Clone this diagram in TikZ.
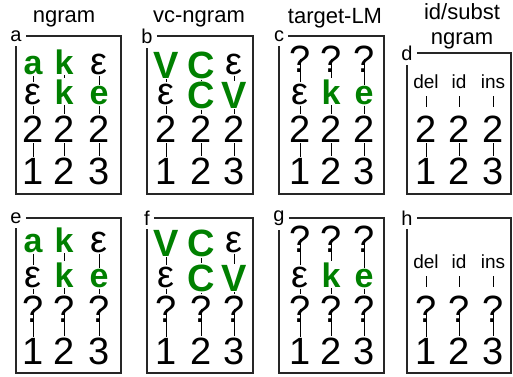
\documentclass[tikz,border=0pt]{standalone}
\usepackage{fontspec}
\setmainfont{Liberation Sans}
\definecolor{leafgreen}{RGB}{0,128,0}
% green symbols: bold letters and bold classes
\newcommand{\gl}[1]{\textcolor{leafgreen}{\fontsize{34}{34}\selectfont\bfseries #1}}
\newcommand{\gb}[1]{\raisebox{-4pt}{\textcolor{leafgreen}{\bfseries #1}}}
\newcommand{\op}[1]{\fontsize{19}{19}\selectfont #1}
% one column of a panel: y/text/anchor below/shorten of link above
\newcommand{\stackcol}[3]{%
  \foreach \yy/\txt/\anc/\sh [count=\r, remember=\r as \q (initially 0), remember=\anc as \panc (initially south)] in {#3} {
    \node[cell] (#1-\r) at (#2,\yy) {\txt};
    \ifnum\r>1 \draw[link, shorten <=\sh, shorten >=\sh] (#1-\q.\panc) -- (#1-\r.north);\fi
  }%
}

\begin{document}
\begin{tikzpicture}[x=1pt, y=-1pt,
    cell/.style={anchor=base, inner sep=1pt, font=\fontsize{38}{38}\selectfont},
    tag/.style={inner sep=4pt, font=\fontsize{20}{20}\selectfont},
    title/.style={anchor=base, font=\fontsize{22}{22}\selectfont},
    border/.style={line width=1.2pt, black!85},
    link/.style={line width=0.8pt}]
  \useasboundingbox (0,0) rectangle (513,376);

  % titles
  \node[title] (tngram) at (64,22) {ngram};
  \node[title] (tvc) at (199,22) {vc-ngram};
  \node[title] (ttarget) at (335,23) {target-LM};
  \node[align=center, font=\fontsize{22}{25}\selectfont] (tsubst) at (462,26) {id/subst\\ngram};

  % top row
  \node[tag] (a) at (16,36) {a};
  \draw[border] (a.east) -- (121,36) -- (121,194) -- (16,194) -- (a.south);
  \stackcol{a1}{33}{74/\gl{a}/south/0pt, 104/ε/south/0pt, 142/2/south/0pt, 184/1/south/0pt}
  \stackcol{a2}{64}{74/\gl{k}/south/0pt, 104/\gl{k}/south/0pt, 142/2/south/0pt, 184/2/south/0pt}
  \stackcol{a3}{99}{74/ε/south/0pt, 104/\gl{e}/south/0pt, 142/2/south/0pt, 184/3/south/0pt}

  \node[tag] (b) at (147,36) {b};
  \draw[border] (b.east) -- (253,36) -- (253,194) -- (147,194) -- (b.south);
  \stackcol{b1}{166}{74/\gb{V}/south/0pt, 104/ε/south/0pt, 142/2/south/0pt, 184/1/south/0pt}
  \stackcol{b2}{201}{74/\gb{C}/south/0pt, 104/\gb{C}/south/0pt, 142/2/south/0pt, 184/2/south/0pt}
  \stackcol{b3}{234}{74/ε/south/0pt, 104/\gb{V}/south/0pt, 142/2/south/0pt, 184/3/south/0pt}

  \node[tag] (c) at (279,36) {c};
  \draw[border] (c.east) -- (384,36) -- (384,194) -- (279,194) -- (c.south);
  \stackcol{c1}{300}{72/?/center/0pt, 104/ε/south/0pt, 142/2/south/0pt, 184/1/south/0pt}
  \stackcol{c2}{331}{72/?/center/0pt, 104/\gl{k}/south/0pt, 142/2/south/0pt, 184/2/south/0pt}
  \stackcol{c3}{364}{72/?/center/0pt, 104/\gl{e}/south/0pt, 142/2/south/0pt, 184/3/south/0pt}

  \node[tag] (d) at (407,53) {d};
  \draw[border] (d.east) -- (511,53) -- (511,194) -- (407,194) -- (d.south);
  \stackcol{d1}{426}{88/\op{del}/south/0pt, 142/2/south/7pt, 184/1/south/0pt}
  \stackcol{d2}{459}{88/\op{id}/south/0pt, 142/2/south/7pt, 184/2/south/0pt}
  \stackcol{d3}{493}{88/\op{ins}/south/0pt, 142/2/south/7pt, 184/3/south/0pt}

  % bottom row
  \node[tag] (e) at (16,218) {e};
  \draw[border] (e.east) -- (121,218) -- (121,373) -- (16,373) -- (e.south);
  \stackcol{e1}{33}{252/\gl{a}/south/0pt, 287/ε/south/0pt, 322/?/center/0pt, 364/1/south/0pt}
  \stackcol{e2}{64}{252/\gl{k}/south/0pt, 287/\gl{k}/south/0pt, 322/?/center/0pt, 364/2/south/0pt}
  \stackcol{e3}{99}{252/ε/south/0pt, 287/\gl{e}/south/0pt, 322/?/center/0pt, 364/3/south/0pt}

  \node[tag] (f) at (147,218) {f};
  \draw[border] (f.east) -- (253,218) -- (253,373) -- (147,373) -- (f.south);
  \stackcol{f1}{166}{252/\gb{V}/south/0pt, 287/ε/south/0pt, 322/?/center/0pt, 364/1/south/0pt}
  \stackcol{f2}{201}{252/\gb{C}/south/0pt, 287/\gb{C}/south/0pt, 322/?/center/0pt, 364/2/south/0pt}
  \stackcol{f3}{234}{252/ε/south/0pt, 287/\gb{V}/south/0pt, 322/?/center/0pt, 364/3/south/0pt}

  \node[tag] (g) at (279,218) {g};
  \draw[border] (g.east) -- (384,218) -- (384,373) -- (279,373) -- (g.south);
  \stackcol{g1}{300}{252/?/center/0pt, 287/ε/south/0pt, 322/?/center/0pt, 364/1/south/0pt}
  \stackcol{g2}{331}{252/?/center/0pt, 287/\gl{k}/south/0pt, 322/?/center/0pt, 364/2/south/0pt}
  \stackcol{g3}{364}{252/?/center/0pt, 287/\gl{e}/south/0pt, 322/?/center/0pt, 364/3/south/0pt}

  \node[tag] (h) at (407,218) {h};
  \draw[border] (h.east) -- (511,218) -- (511,373) -- (407,373) -- (h.south);
  \stackcol{h1}{426}{268/\op{del}/south/0pt, 322/?/center/7pt, 364/1/south/0pt}
  \stackcol{h2}{459}{268/\op{id}/south/0pt, 322/?/center/7pt, 364/2/south/0pt}
  \stackcol{h3}{493}{268/\op{ins}/south/0pt, 322/?/center/7pt, 364/3/south/0pt}
\end{tikzpicture}
\end{document}
